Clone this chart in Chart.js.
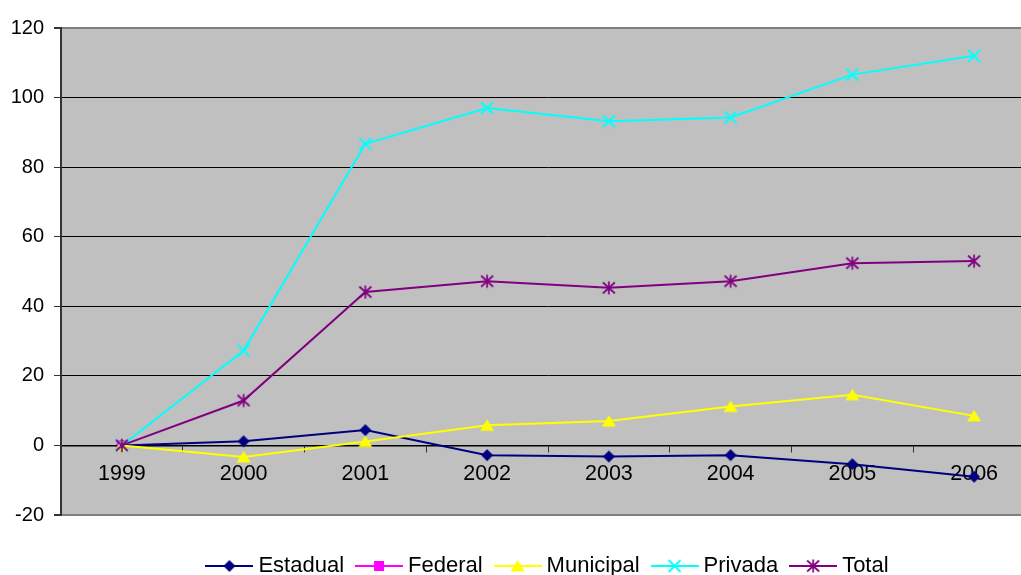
<!DOCTYPE html>
<html>
<head>
<meta charset="utf-8">
<script src="https://cdn.jsdelivr.net/npm/chart.js@4"></script>
<style>
  html, body { margin: 0; padding: 0; background: #fff; overflow: hidden; }
  canvas { display: block; }
</style>
</head>
<body>
<canvas id="myChart" width="1100" height="587"></canvas>
<script>
const years = ['1999', '2000', '2001', '2002', '2003', '2004', '2005', '2006'];
const estadual = [0, 1.2, 4.4, -2.8, -3.2, -2.8, -5.4, -9.0];
const federal = [0, null, null, null, null, null, null, null];
const municipal = [0, -3.3, 1.1, 5.8, 7.0, 11.2, 14.6, 8.5];
const privada = [0, 27.3, 86.7, 97.0, 93.2, 94.3, 106.6, 112.0];
const total = [0, 12.9, 44.1, 47.2, 45.3, 47.2, 52.4, 53.0];

const seriesNames = ['Estadual', 'Federal', 'Municipal', 'Privada', 'Total'];
const seriesData = [estadual, federal, municipal, privada, total];
const seriesColors = ['#000080', '#FF00FF', '#FFFF00', '#00FFFF', '#800080'];
const seriesMarkers = ['diamond', 'square', 'triangle', 'cross', 'asterisk'];

const FONT = "'Liberation Sans', Arial, sans-serif";

// excel style markers
function drawMarker(ctx, kind, color, cx, cy) {
  ctx.save();
  ctx.fillStyle = color;
  ctx.strokeStyle = color;
  ctx.beginPath();
  if (kind === 'diamond') {
    ctx.moveTo(cx, cy - 6);
    ctx.lineTo(cx + 6, cy);
    ctx.lineTo(cx, cy + 6);
    ctx.lineTo(cx - 6, cy);
    ctx.closePath();
    ctx.fill();
  } else if (kind === 'square') {
    ctx.rect(cx - 5, cy - 5, 10, 10);
    ctx.fill();
  } else if (kind === 'triangle') {
    ctx.moveTo(cx, cy - 6);
    ctx.lineTo(cx + 7, cy + 5.5);
    ctx.lineTo(cx - 7, cy + 5.5);
    ctx.closePath();
    ctx.fill();
  } else if (kind === 'cross') {
    ctx.lineWidth = 1.8;
    ctx.moveTo(cx - 6, cy - 6); ctx.lineTo(cx + 6, cy + 6);
    ctx.moveTo(cx + 6, cy - 6); ctx.lineTo(cx - 6, cy + 6);
    ctx.stroke();
  } else if (kind === 'asterisk') {
    ctx.lineWidth = 1.7;
    ctx.moveTo(cx - 6, cy - 5.5); ctx.lineTo(cx + 6, cy + 5.5);
    ctx.moveTo(cx + 6, cy - 5.5); ctx.lineTo(cx - 6, cy + 5.5);
    ctx.moveTo(cx, cy - 6.5); ctx.lineTo(cx, cy + 6.5);
    ctx.stroke();
  }
  ctx.restore();
}

function markerCanvas(kind, color) {
  const c = document.createElement('canvas');
  c.width = 18;
  c.height = 18;
  drawMarker(c.getContext('2d'), kind, color, 9, 9);
  return c;
}

// legend sample: short line with the marker in the middle
function legendIcon(kind, color) {
  const c = document.createElement('canvas');
  c.width = 48;
  c.height = 18;
  const ctx = c.getContext('2d');
  ctx.strokeStyle = color;
  ctx.lineWidth = 2;
  ctx.beginPath();
  ctx.moveTo(0, 9);
  ctx.lineTo(48, 9);
  ctx.stroke();
  drawMarker(ctx, kind, color, 24, 9);
  return c;
}

const pointIcons = seriesMarkers.map((m, i) => markerCanvas(m, seriesColors[i]));
const legendIcons = seriesMarkers.map((m, i) => legendIcon(m, seriesColors[i]));

const datasets = seriesNames.map((name, i) => ({
  label: name,
  data: seriesData[i],
  borderColor: seriesColors[i],
  backgroundColor: seriesColors[i],
  borderWidth: 2,
  pointStyle: pointIcons[i],
  pointRadius: 6,
  tension: 0,
  order: seriesNames.length - i,
}));

const plotBackground = {
  id: 'plotBackground',
  beforeDraw(chart) {
    const { ctx, chartArea } = chart;
    ctx.save();
    ctx.fillStyle = '#C0C0C0';
    ctx.fillRect(chartArea.left, chartArea.top, chartArea.right - chartArea.left, chartArea.bottom - chartArea.top);
    ctx.restore();
  },
};

const config = {
  type: 'line',
  data: { labels: years, datasets },
  options: {
    responsive: false,
    animation: false,
    devicePixelRatio: 1,
    layout: { padding: { top: 28, left: 0, right: 0, bottom: 0 } },
    scales: {
      x: {
        type: 'category',
        position: { y: 0 },
        offset: true,
        grid: {
          display: true,
          offset: true,
          drawOnChartArea: false,
          drawTicks: true,
          tickLength: 6,
          tickColor: '#333',
        },
        border: { display: true, color: '#000', width: 1.5 },
        ticks: {
          color: '#000',
          font: { family: FONT, size: 21.5 },
          padding: 10,
          maxRotation: 0,
          autoSkip: false,
        },
      },
      y: {
        position: 'left',
        min: -20,
        max: 120,
        ticks: {
          stepSize: 20,
          color: '#000',
          font: { family: FONT, size: 20 },
          padding: 10,
        },
        grid: {
          color: (c) => (c.tick && (c.tick.value === 120 || c.tick.value === -20)) ? '#808080' : '#000',
          lineWidth: (c) => (c.tick && (c.tick.value === 120 || c.tick.value === -20)) ? 2 : 1,
          tickLength: 7,
          tickColor: '#333',
        },
        border: { display: true, color: '#333', width: 2 },
        afterFit(scale) { scale.width = 61; },
      },
      // spacer on the right so the plot runs past the window edge
      pad: {
        position: 'right',
        display: true,
        grid: { display: false },
        border: { display: false },
        ticks: { display: false },
        afterFit(scale) { scale.width = 65; },
      },
    },
    plugins: {
      tooltip: { enabled: false },
      legend: {
        position: 'bottom',
        title: { display: true, text: '', font: { size: 23, lineHeight: 1 }, padding: 0 },
        labels: {
          usePointStyle: true,
          pointStyleWidth: 36,
          padding: 17,
          color: '#000',
          font: { family: FONT, size: 22 },
          sort: (a, b) => a.datasetIndex - b.datasetIndex,
          generateLabels(chart) {
            return Chart.defaults.plugins.legend.labels.generateLabels(chart).map((item) => {
              item.pointStyle = legendIcons[item.datasetIndex];
              return item;
            });
          },
        },
      },
    },
  },
  plugins: [plotBackground],
};

new Chart(document.getElementById('myChart'), config);
</script>
</body>
</html>
